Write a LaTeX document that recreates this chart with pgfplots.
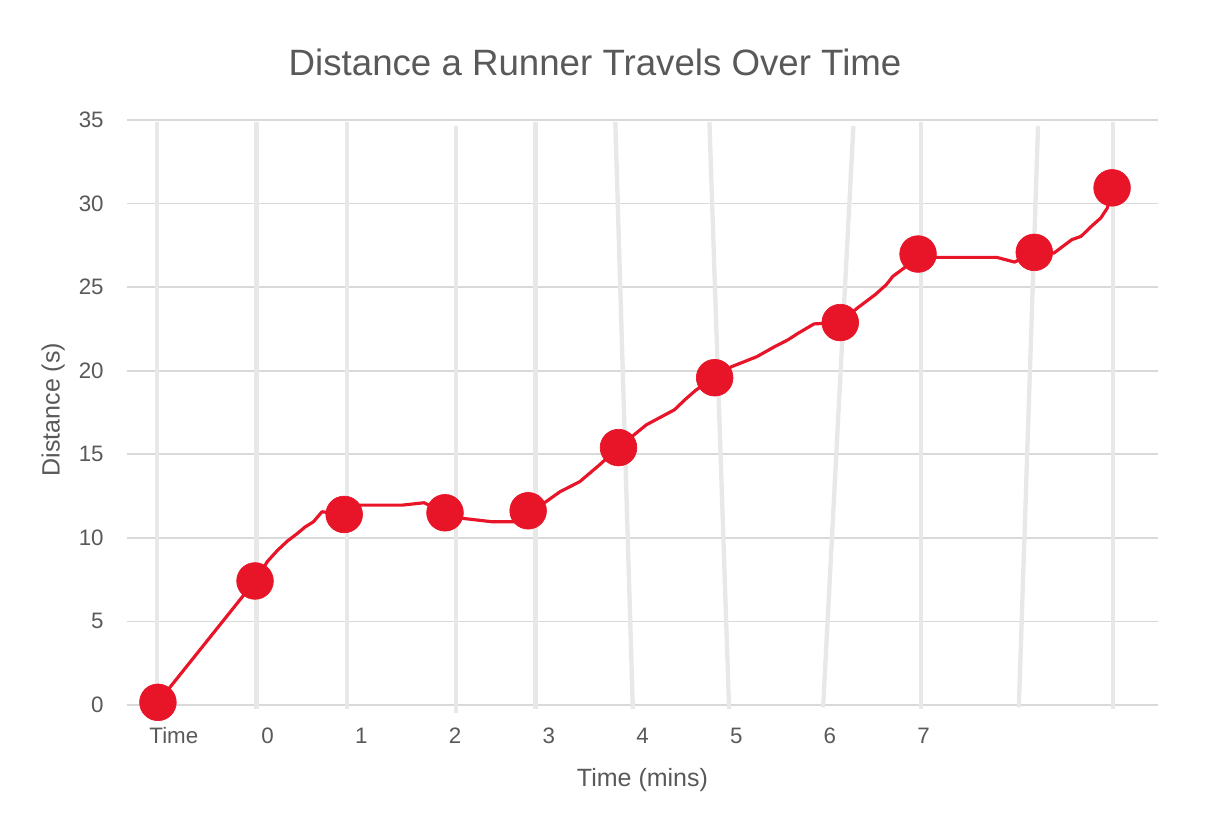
\documentclass[border=0pt]{standalone}
\usepackage{pgfplots}
\pgfplotsset{compat=1.18}
\usepackage{fontspec}
\setmainfont{Liberation Sans}
\definecolor{runred}{RGB}{232,20,40}
\definecolor{txtgray}{RGB}{89,89,89}
\definecolor{hgrid}{RGB}{217,217,217}
\definecolor{vgrid}{RGB}{232,232,232}
\begin{document}
\begin{tikzpicture}
\useasboundingbox (-76.2pt,-74.4pt) rectangle (646.8pt,423pt);
\begin{axis}[
  scale only axis,
  width=618.6pt, height=351pt,
  xmin=-0.5, xmax=10.5, ymin=0, ymax=35,
  clip=false,
  axis line style={draw=none},
  major tick length=0pt,
  xtick={0,1,2,3,4,5,6,7,8,9,10},
  xticklabels={Time,0,1,2,3,4,5,6,7,{},{}},
  ytick={0,5,10,15,20,25,30,35},
  ymajorgrids, 
  grid style={hgrid, line width=1pt},
  /pgf/number format/assume math mode=true,
  ticklabel style={font=\fontsize{13.4}{16}\selectfont, text=txtgray},
  xticklabel style={anchor=base, inner sep=0pt, yshift=-23.4pt},
  yticklabel style={anchor=east, inner sep=0pt, xshift=-13.8pt},
  title={Distance a Runner Travels Over Time},
  title style={font=\fontsize{22}{26}\selectfont, text=txtgray, at={(axis description cs:0.454,1.082)}, anchor=center},
  xlabel={Time (mins)},
  xlabel style={font=\fontsize{15}{18}\selectfont, text=txtgray, at={(axis description cs:0.5,-0.128)}, anchor=center},
  ylabel={Distance (s)},
  ylabel style={font=\fontsize{15}{18}\selectfont, text=txtgray, at={(axis description cs:-0.0715,0.505)}, anchor=center, rotate=0},
]
% hand-drawn vertical lines
\addplot[vgrid, line width=2.6pt, forget plot] coordinates {(-0.18,34.88) (-0.18,-0.24)};
\addplot[vgrid, line width=2.6pt, forget plot] coordinates {(0.88,34.88) (0.88,-0.24)};
\addplot[vgrid, line width=2.6pt, forget plot] coordinates {(1.85,34.88) (1.85,-0.24)};
\addplot[vgrid, line width=2.6pt, forget plot] coordinates {(3.01,34.64) (3.01,-0.48)};
\addplot[vgrid, line width=2.6pt, forget plot] coordinates {(3.86,34.88) (3.86,-0.24)};
\addplot[vgrid, line width=2.6pt, forget plot] coordinates {(4.71,34.88) (4.897,-0.24)};
\addplot[vgrid, line width=2.6pt, forget plot] coordinates {(5.714,34.88) (5.924,-0.24)};
\addplot[vgrid, line width=2.6pt, forget plot] coordinates {(7.25,34.64) (6.927,-0.14)};
\addplot[vgrid, line width=2.6pt, forget plot] coordinates {(7.97,34.88) (7.97,-0.24)};
\addplot[vgrid, line width=2.6pt, forget plot] coordinates {(9.22,34.64) (9.015,-0.14)};
\addplot[vgrid, line width=2.6pt, forget plot] coordinates {(10.02,34.88) (10.02,-0.24)};
% wavy red line
\addplot[runred, line width=1.9pt, line join=round, no marks] coordinates {
(-0.17,0.16) (0.866,7.42) (1.0,8.6) (1.107,9.26) (1.21,9.8) (1.317,10.26) (1.40,10.65) (1.489,10.96) (1.58,11.56) (1.817,11.4)
(1.95,11.96) (2.44,11.96) (2.67,12.1) (2.893,11.5) (3.09,11.16) (3.40,10.96) (3.65,10.96) (3.78,11.62)
(3.97,12.16) (4.12,12.76) (4.33,13.36) (4.54,14.36) (4.744,15.4) (5.04,16.76) (5.34,17.66) (5.46,18.3) (5.57,18.84) (5.77,19.58)
(5.95,20.24) (6.22,20.84) (6.41,21.44) (6.55,21.84) (6.66,22.24) (6.83,22.8) (7.11,22.88)
(7.29,23.74) (7.48,24.54) (7.6,25.14) (7.67,25.64) (7.79,26.14) (7.94,26.98)
(8.13,26.78) (8.78,26.78) (8.97,26.5) (9.18,27.08) (9.39,27.04) (9.58,27.84) (9.68,28.04) (9.77,28.54) (9.89,29.14) (9.96,29.74) (10.01,30.94)
};
% markers
\addplot[only marks, mark=*, mark size=11pt, mark options={fill=runred, draw=runred}] coordinates {
(-0.17,0.16) (0.866,7.42) (1.817,11.4) (2.893,11.5) (3.78,11.62) (4.744,15.4) (5.77,19.58) (7.11,22.88) (7.94,26.98) (9.18,27.08) (10.01,30.94)
};
\end{axis}
\end{tikzpicture}
\end{document}
